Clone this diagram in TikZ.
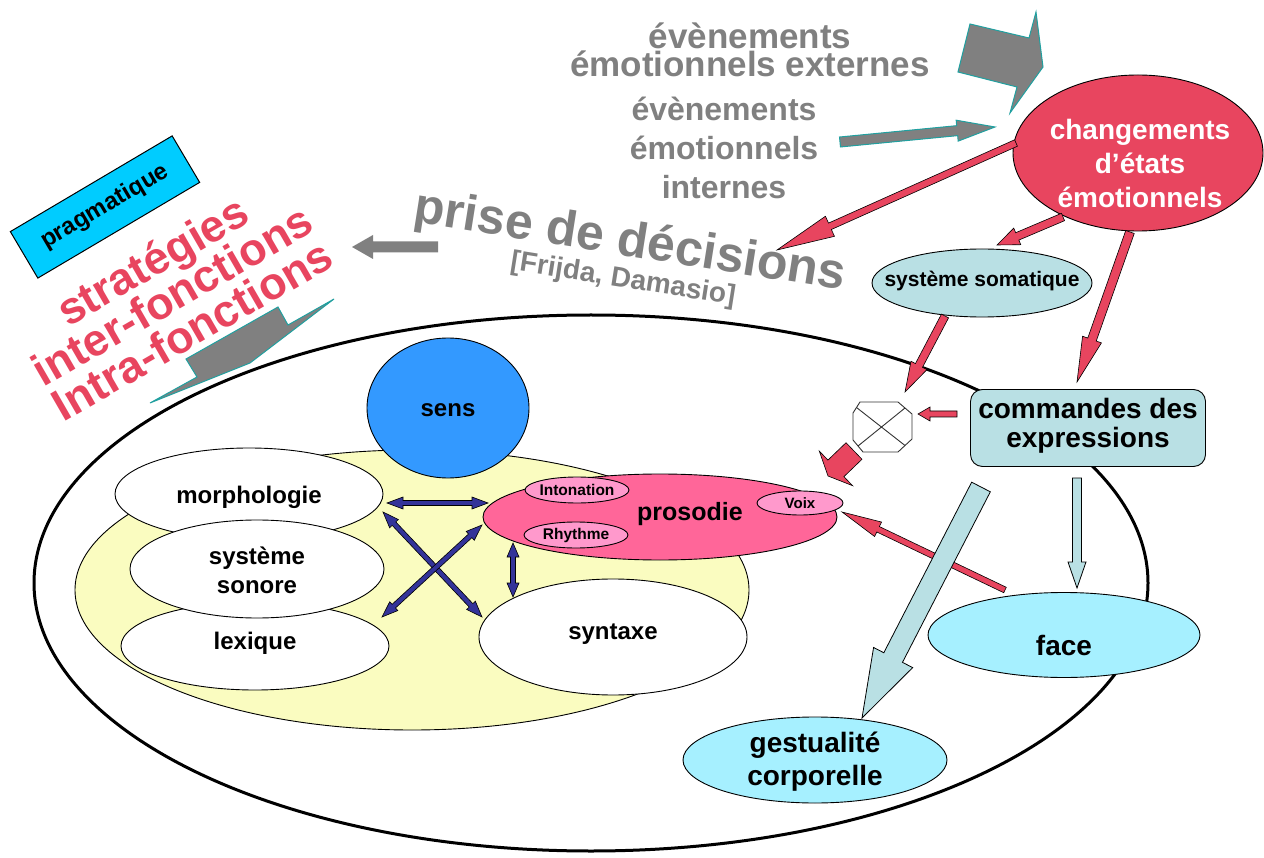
\documentclass[tikz,border=0pt]{standalone}
\usepackage{fontspec}
\setmainfont{Liberation Sans}
\usetikzlibrary{shapes.geometric,calc}
\definecolor{redc}{RGB}{232,69,95}
\definecolor{grayc}{RGB}{128,128,128}
\definecolor{tealc}{RGB}{32,160,160}
\definecolor{cyanbox}{RGB}{0,204,255}
\definecolor{lblue}{RGB}{185,224,228}
\definecolor{fblue}{RGB}{166,240,255}
\definecolor{sensblue}{RGB}{51,153,255}
\definecolor{yellowc}{RGB}{250,252,192}
\definecolor{prosc}{RGB}{255,102,153}
\definecolor{subpink}{RGB}{255,153,204}
\definecolor{navyc}{RGB}{51,51,153}
\newcommand\myfs[2]{\fontsize{#1}{#2}\selectfont\bfseries\lineskiplimit=-100pt\relax}
% single block arrow: [style]{from}{to}{shaft half}{head length}{head half}
\newcommand\barrow[6][]{%
  \coordinate (hb) at ($(#3)!#5pt!(#2)$);
  \path[#1] ($(#2)!#4pt!90:(#3)$) -- ($(hb)!#4pt!90:(#3)$) -- ($(hb)!#6pt!90:(#3)$) -- (#3)
    -- ($(hb)!#6pt!-90:(#3)$) -- ($(hb)!#4pt!-90:(#3)$) -- ($(#2)!#4pt!-90:(#3)$) -- cycle;}
% double block arrow
\newcommand\dbarrow[6][]{%
  \coordinate (hb) at ($(#3)!#5pt!(#2)$);
  \coordinate (ht) at ($(#2)!#5pt!(#3)$);
  \path[#1] (#2) -- ($(ht)!#6pt!90:(#3)$) -- ($(ht)!#4pt!90:(#3)$) -- ($(hb)!#4pt!90:(#3)$)
    -- ($(hb)!#6pt!90:(#3)$) -- (#3) -- ($(hb)!#6pt!-90:(#3)$) -- ($(hb)!#4pt!-90:(#3)$)
    -- ($(ht)!#4pt!-90:(#3)$) -- ($(ht)!#6pt!-90:(#3)$) -- cycle;}
\tikzset{
  ell/.style={ellipse, draw=black, line width=0.9pt, inner sep=0pt},
  lab/.style={inner sep=0pt, align=center},
  redarr/.style={fill=redc, draw=black, line width=0.6pt},
  bluearr/.style={fill=lblue, draw=black, line width=0.8pt},
  grayarr/.style={fill=grayc, draw=tealc, line width=1pt},
  navyarr/.style={fill=navyc, draw=black, line width=0.6pt},
  octline/.style={draw=black!80, line width=0.9pt},
}
\begin{document}
\begin{tikzpicture}[x=1pt,y=-1pt]
\useasboundingbox[fill=white] (0,0) rectangle (1264,858);

% big frame ellipse
\node[ellipse, draw=black, line width=3pt, inner sep=0pt, minimum width=1114pt, minimum height=536pt] (outer) at (591,583) {};
% language yellow ellipse
\node[ell, fill=yellowc, minimum width=674pt, minimum height=280pt] (lang) at (412,590) {};
% sens
\node[ell, fill=sensblue, minimum width=162pt, minimum height=140pt] (sens) at (448,408) {};
\node[lab, font=\myfs{24}{28}] (senstxt) at (448,410) {sens};
% left ellipses
\node[ell, fill=white, minimum width=268pt, minimum height=92pt] (morph) at (249,494) {};
\node[ell, fill=white, minimum width=268pt, minimum height=88pt] (lex) at (255,646) {};
\node[ell, fill=white, minimum width=254pt, minimum height=98pt] (son) at (257,569) {};
\node[lab, font=\myfs{24}{29}] (morphtxt) at (249,497) {morphologie};
\node[lab, font=\myfs{24}{29}] (sontxt) at (257,570) {système\\sonore};
\node[lab, font=\myfs{24}{29}] (lextxt) at (255,643) {lexique};
% syntaxe
\node[ell, fill=white, minimum width=268pt, minimum height=116pt] (synt) at (613,637) {};
\node[lab, font=\myfs{24}{29}] (synttxt) at (613,634) {syntaxe};
% prosodie
\node[ell, fill=prosc, minimum width=354pt, minimum height=86pt] (pros) at (660,517) {};
\node[lab, font=\myfs{25}{29}] (prostxt) at (690,514) {prosodie};
\node[ell, fill=subpink, minimum width=104pt, minimum height=26pt] (inton) at (577,490) {};
\node[lab, font=\myfs{15.5}{18}] (intontxt) at (577,490) {Intonation};
\node[ell, fill=subpink, minimum width=104pt, minimum height=26pt] (rhy) at (576,535) {};
\node[lab, font=\myfs{15.5}{18}] (rhytxt) at (576,535) {Rhythme};
\node[ell, fill=subpink, minimum width=86pt, minimum height=24pt] (voix) at (800,503) {};
\node[lab, font=\myfs{15}{18}] (voixtxt) at (800,503) {Voix};

% blue double arrows
\coordinate (d1a) at (387,503); \coordinate (d1b) at (488,503);
\coordinate (d2a) at (383,512); \coordinate (d2b) at (482,617);
\coordinate (d3a) at (382,617); \coordinate (d3b) at (482,525);
\coordinate (d4a) at (513,543); \coordinate (d4b) at (513,597);
\dbarrow[navyarr]{d1a}{d1b}{2.5}{16}{6}
\dbarrow[navyarr]{d2a}{d2b}{2.5}{16}{6}
\dbarrow[navyarr]{d3a}{d3b}{2.5}{16}{6}
\dbarrow[navyarr]{d4a}{d4b}{2.5}{14}{6}

% right side nodes
\node[draw=black, line width=0.9pt, fill=lblue, rounded corners=12pt, minimum width=235pt, minimum height=77pt, inner sep=0pt] (cmd) at (1088,428) {};
\node[lab, font=\myfs{28}{29}] (cmdtxt) at (1088,426) {commandes des\\expressions};
\node[ell, fill=fblue, minimum width=272pt, minimum height=85pt] (face) at (1064,635) {};
\node[lab, font=\myfs{28}{32}] (facetxt) at (1064,645) {face};
\node[ell, fill=fblue, minimum width=264pt, minimum height=86pt] (gest) at (815,760) {};
\node[lab, font=\myfs{28}{33}] (gesttxt) at (815,762) {gestualité\\corporelle};
\node[ell, fill=lblue, minimum width=220pt, minimum height=68pt] (som) at (982,283) {};
\node[lab, font=\myfs{21}{25}] (somtxt) at (982,281) {système somatique};
\node[ell, fill=redc, minimum width=250pt, minimum height=156pt] (chg) at (1138,153) {};
\node[lab, text=white, font=\myfs{28}{34}] (chgtxt) at (1140,163) {changements\\d’états\\émotionnels};
% octagon (multiplier)
\coordinate (oct) at (883,427);
\path[octline, fill=white] (860,402) -- (898,402) -- (912,414) -- (912,439) -- (898,452) -- (863,452) -- (853,440) -- (853,413) -- cycle;
\draw[octline] (856.5,407.5) -- (905,445.5) (905,408) -- (858,446);

% grey texts
\node[lab, text=grayc, font=\myfs{35}{28.5}] (ext) at (750,50) {évènements\\émotionnels externes};
\node[lab, text=grayc, font=\myfs{32}{39}] (int) at (724,148) {évènements\\émotionnels\\internes};
\node[lab, text=grayc, font=\myfs{50}{55}, rotate=-9] (pdd) at (630,243) {prise de décisions};
\node[lab, text=grayc, font=\myfs{28}{32}, rotate=-9] (fd) at (623,280) {[Frijda, Damasio]};

% pragmatique
\node[draw=black, line width=1pt, fill=cyanbox, minimum width=188pt, minimum height=54pt, inner sep=0pt, rotate=30.6, font=\myfs{24}{28}] (prag) at (105,207) {pragmatique};
\node[lab, text=redc, font=\myfs{45}{40}, rotate=30] (strat) at (172,295) {stratégies\\inter-fonctions\\Intra-fonctions};

% grey block arrows
\path[grayarr] (970,24) -- (1029,38) -- (1036,12) -- (1043,67) -- (1010,113) -- (1017,87) -- (958,72) -- cycle;
\coordinate (g2a) at (840,142); \coordinate (g2b) at (995,127);
\barrow[grayarr]{g2a}{g2b}{5}{38}{10.5}
\coordinate (g3a) at (438,247); \coordinate (g3b) at (352,247);
\barrow[fill=grayc]{g3a}{g3b}{5.5}{21}{12}
\path[grayarr] (186,359) -- (278,307) -- (288,325) -- (334,299) -- (250,363) -- (150,403) -- (197,377) -- cycle;

% red arrows
\coordinate (r1a) at (1016,143); \coordinate (r1b) at (777,250);
\barrow[redarr]{r1a}{r1b}{3.5}{58}{11}
\coordinate (r2a) at (1063,217); \coordinate (r2b) at (997,245);
\barrow[redarr]{r2a}{r2b}{4}{22}{9}
\coordinate (r3a) at (1130,232); \coordinate (r3b) at (1077,382);
\barrow[redarr]{r3a}{r3b}{4.5}{45}{10}
\coordinate (r4a) at (945,316); \coordinate (r4b) at (905,392);
\barrow[redarr]{r4a}{r4b}{4}{30}{9}
\coordinate (r5a) at (1005,590); \coordinate (r5b) at (842,512);
\barrow[redarr]{r5a}{r5b}{3}{40}{8}
\coordinate (r6a) at (957,414); \coordinate (r6b) at (918,414);
\barrow[redarr]{r6a}{r6b}{3}{12}{7}
\coordinate (r7a) at (854,451); \coordinate (r7b) at (828,476);
\barrow[redarr]{r7a}{r7b}{11.5}{11}{24}

% light blue arrows
\coordinate (b1a) at (1077,478); \coordinate (b1b) at (1077,588);
\barrow[bluearr]{b1a}{b1b}{4.5}{26}{9}
\coordinate (b2a) at (981,487); \coordinate (b2b) at (862,718);
\barrow[bluearr]{b2a}{b2b}{10.5}{68}{22}
\end{tikzpicture}
\end{document}
